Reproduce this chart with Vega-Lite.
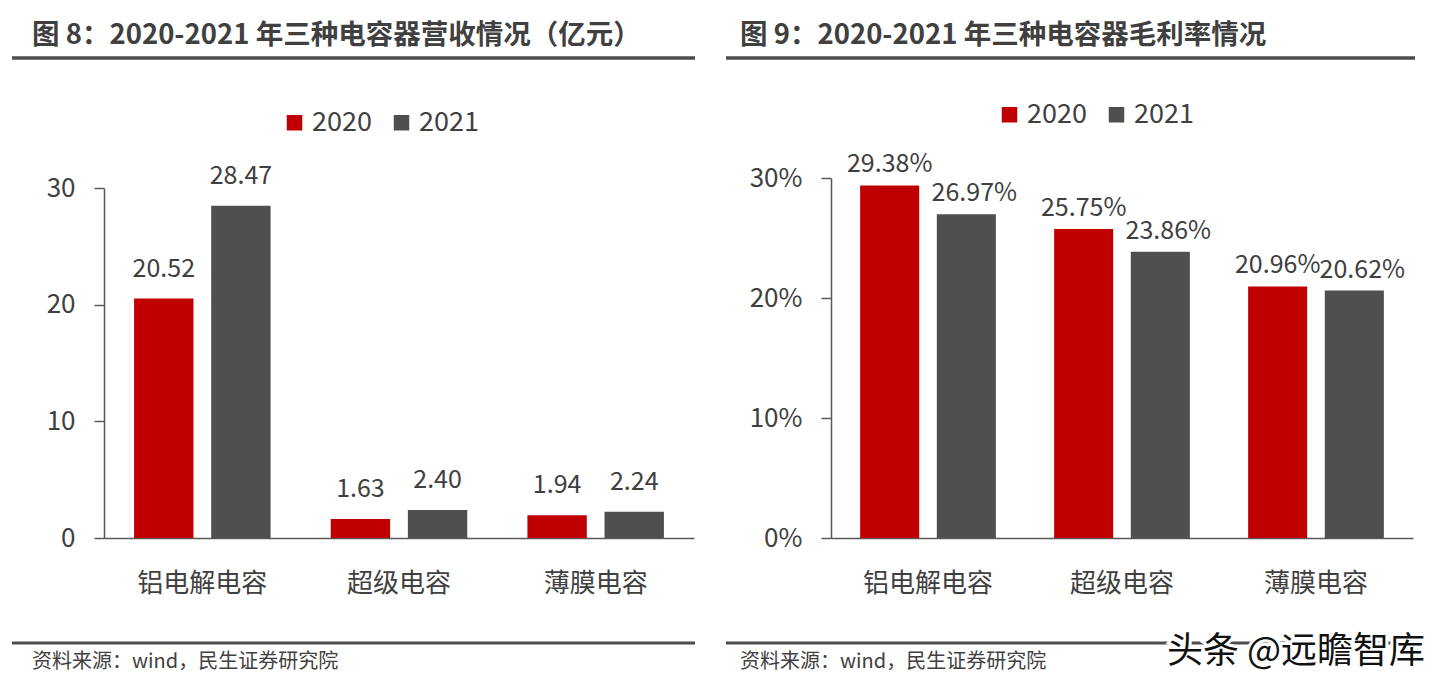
{
  "$schema": "https://vega.github.io/schema/vega-lite/v6.json",
  "width": 1445,
  "height": 688,
  "autosize": {"type": "none"},
  "padding": 0,
  "background": "white",
  "config": {"view": {"stroke": null}, "font": "Noto Sans CJK SC"},
  "layer": [
    {
      "data": {"values": [
        {"cat": "铝电解电容", "year": "2020", "value": 20.52},
        {"cat": "铝电解电容", "year": "2021", "value": 28.47},
        {"cat": "超级电容", "year": "2020", "value": 1.63},
        {"cat": "超级电容", "year": "2021", "value": 2.40},
        {"cat": "薄膜电容", "year": "2020", "value": 1.94},
        {"cat": "薄膜电容", "year": "2021", "value": 2.24}
      ]},
      "encoding": {
        "x": {"field": "cat", "type": "nominal", "sort": ["铝电解电容", "超级电容", "薄膜电容"],
          "scale": {"range": [104, 694], "paddingInner": 0, "paddingOuter": 0},
          "axis": {"orient": "bottom", "offset": -150, "title": null, "ticks": false, "tickSize": 0, "labelAngle": 0,
            "labelPadding": 32, "labelFontSize": 26, "labelColor": "#404040", "labelFont": "Noto Sans CJK SC",
            "domainColor": "#595959", "domainWidth": 1.5}},
        "xOffset": {"field": "year", "type": "nominal", "scale": {"paddingInner": 0.23, "paddingOuter": 0.39}},
        "y": {"field": "value", "type": "quantitative",
          "scale": {"domain": [0, 30], "range": [538, 188], "nice": false, "zero": true},
          "axis": {"orient": "left", "offset": -104, "title": null, "values": [0, 10, 20, 30], "grid": false,
            "tickSize": 10, "tickColor": "#595959", "tickWidth": 1.5, "domainColor": "#595959", "domainWidth": 1.5,
            "labelPadding": 19, "labelFontSize": 26, "labelColor": "#404040", "labelFont": "Noto Sans CJK SC"}}
      },
      "layer": [
        {"mark": {"type": "bar"},
          "encoding": {"color": {"field": "year", "type": "nominal",
            "scale": {"domain": ["2020", "2021"], "range": ["#c00000", "#4f4f50"]},
            "legend": {"orient": "none", "legendX": 281, "legendY": 109, "direction": "horizontal", "title": null,
              "symbolType": "square", "symbolSize": 240, "symbolStrokeWidth": 0, "labelFontSize": 27, "labelColor": "#404040",
              "labelFont": "Noto Sans CJK SC", "labelOffset": 4, "columnPadding": 16, "padding": 0}}}},
        {"mark": {"type": "text", "baseline": "alphabetic", "dy": -22, "fontSize": 25, "color": "#404040", "font": "Noto Sans CJK SC"},
          "encoding": {"text": {"field": "value", "type": "quantitative", "format": ".2f"}}}
      ]
    },
    {
      "data": {"values": [
        {"cat": "铝电解电容", "year": "2020", "value": 0.2938},
        {"cat": "铝电解电容", "year": "2021", "value": 0.2697},
        {"cat": "超级电容", "year": "2020", "value": 0.2575},
        {"cat": "超级电容", "year": "2021", "value": 0.2386},
        {"cat": "薄膜电容", "year": "2020", "value": 0.2096},
        {"cat": "薄膜电容", "year": "2021", "value": 0.2062}
      ]},
      "encoding": {
        "x": {"field": "cat", "type": "nominal", "sort": ["铝电解电容", "超级电容", "薄膜电容"],
          "scale": {"range": [831, 1413], "paddingInner": 0, "paddingOuter": 0},
          "axis": {"orient": "bottom", "offset": -150, "title": null, "ticks": false, "tickSize": 0, "labelAngle": 0,
            "labelPadding": 32, "labelFontSize": 26, "labelColor": "#404040", "labelFont": "Noto Sans CJK SC",
            "domainColor": "#595959", "domainWidth": 1.5}},
        "xOffset": {"field": "year", "type": "nominal", "scale": {"domain": ["2020", "2021"], "paddingInner": 0.23, "paddingOuter": 0.38}},
        "y": {"field": "value", "type": "quantitative",
          "scale": {"domain": [0, 0.3], "range": [538, 178], "nice": false, "zero": true},
          "axis": {"orient": "left", "offset": -831, "title": null, "values": [0, 0.1, 0.2, 0.3], "format": ".0%", "grid": false,
            "tickSize": 10, "tickColor": "#595959", "tickWidth": 1.5, "domainColor": "#595959", "domainWidth": 1.5,
            "labelPadding": 19, "labelFontSize": 26, "labelColor": "#404040", "labelFont": "Noto Sans CJK SC"}}
      },
      "layer": [
        {"mark": {"type": "bar"},
          "encoding": {"color": {"field": "year", "type": "nominal",
            "scale": {"domain": ["2020", "2021"], "range": ["#c00000", "#4f4f50"]},
            "legend": {"orient": "none", "legendX": 996, "legendY": 101, "direction": "horizontal", "title": null,
              "symbolType": "square", "symbolSize": 240, "symbolStrokeWidth": 0, "labelFontSize": 27, "labelColor": "#404040",
              "labelFont": "Noto Sans CJK SC", "labelOffset": 4, "columnPadding": 16, "padding": 0}}}},
        {"transform": [{"filter": "datum.year == '2020'"}],
          "mark": {"type": "text", "baseline": "alphabetic", "dy": -13, "fontSize": 25, "color": "#404040", "font": "Noto Sans CJK SC"},
          "encoding": {"text": {"field": "value", "type": "quantitative", "format": ".2%"}}},
        {"transform": [{"filter": "datum.year == '2021'"}],
          "mark": {"type": "text", "baseline": "alphabetic", "dy": -13, "dx": 8, "fontSize": 25, "color": "#404040", "font": "Noto Sans CJK SC"},
          "encoding": {"text": {"field": "value", "type": "quantitative", "format": ".2%"}}}
      ]
    },
    {"data": {"values": [{}]}, "mark": {"type": "rule", "strokeWidth": 3.5, "color": "#4d4d4d"},
      "encoding": {"x": {"value": 12}, "x2": {"value": 695}, "y": {"value": 58}, "y2": {"value": 58}}},
    {"data": {"values": [{}]}, "mark": {"type": "rule", "strokeWidth": 3.5, "color": "#4d4d4d"},
      "encoding": {"x": {"value": 726}, "x2": {"value": 1415}, "y": {"value": 58}, "y2": {"value": 58}}},
    {"data": {"values": [{}]}, "mark": {"type": "rule", "strokeWidth": 3, "color": "#4d4d4d"},
      "encoding": {"x": {"value": 12}, "x2": {"value": 695}, "y": {"value": 643}, "y2": {"value": 643}}},
    {"data": {"values": [{}]}, "mark": {"type": "rule", "strokeWidth": 3, "color": "#4d4d4d"},
      "encoding": {"x": {"value": 726}, "x2": {"value": 1415}, "y": {"value": 643}, "y2": {"value": 643}}},
    {"data": {"values": [{}]}, "mark": {"type": "text", "text": "图 8：2020-2021 年三种电容器营收情况（亿元）", "x": 32, "y": 36, "align": "left", "baseline": "middle", "fontSize": 27.5, "fontWeight": "bold", "color": "#404040", "font": "Noto Sans CJK SC"}, "encoding": {}},
    {"data": {"values": [{}]}, "mark": {"type": "text", "text": "图 9：2020-2021 年三种电容器毛利率情况", "x": 740, "y": 36, "align": "left", "baseline": "middle", "fontSize": 27.5, "fontWeight": "bold", "color": "#404040", "font": "Noto Sans CJK SC"}, "encoding": {}},
    {"data": {"values": [{}]}, "mark": {"type": "text", "text": "资料来源：wind，民生证券研究院", "x": 32, "y": 662, "align": "left", "baseline": "middle", "fontSize": 20, "color": "#404040", "font": "Noto Sans CJK SC"}, "encoding": {}},
    {"data": {"values": [{}]}, "mark": {"type": "text", "text": "资料来源：wind，民生证券研究院", "x": 740, "y": 662, "align": "left", "baseline": "middle", "fontSize": 20, "color": "#404040", "font": "Noto Sans CJK SC"}, "encoding": {}},
    {"data": {"values": [{}]}, "mark": {"type": "text", "text": "头条 @远瞻智库", "x": 1425, "y": 652, "align": "right", "baseline": "middle", "fontSize": 36, "color": "white", "stroke": "white", "strokeWidth": 6, "font": "Noto Sans CJK SC"}, "encoding": {}},
    {"data": {"values": [{}]}, "mark": {"type": "text", "text": "头条 @远瞻智库", "x": 1425, "y": 652, "align": "right", "baseline": "middle", "fontSize": 36, "color": "#111111", "font": "Noto Sans CJK SC"}, "encoding": {}}
  ],
  "resolve": {
    "scale": {"x": "independent", "y": "independent", "xOffset": "independent", "color": "independent"},
    "axis": {"x": "independent", "y": "independent"},
    "legend": {"color": "independent"}
  }
}
